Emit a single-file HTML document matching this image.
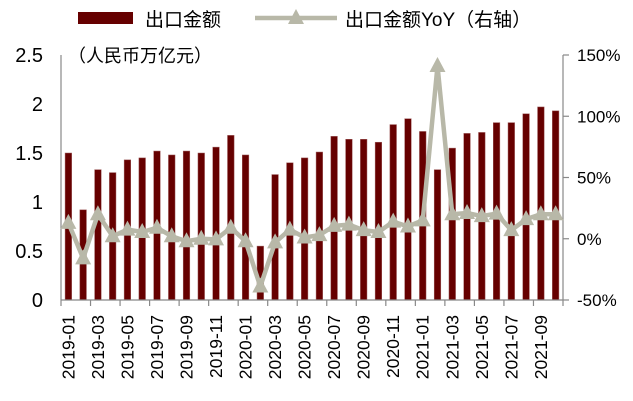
<!DOCTYPE html>
<html><head><meta charset="utf-8">
<style>
body{margin:0;background:#fff;}
svg{display:block;font-family:"Liberation Sans","Noto Sans CJK SC",sans-serif;}
</style></head>
<body>
<svg id="chart" width="633" height="401" viewBox="0 0 633 401"></svg>
<script>
const categories=["2019-01","2019-02","2019-03","2019-04","2019-05","2019-06","2019-07","2019-08","2019-09","2019-10","2019-11","2019-12","2020-01","2020-02","2020-03","2020-04","2020-05","2020-06","2020-07","2020-08","2020-09","2020-10","2020-11","2020-12","2021-01","2021-02","2021-03","2021-04","2021-05","2021-06","2021-07","2021-08","2021-09","2021-10"];
const exportValues=[1.50,0.92,1.33,1.30,1.43,1.45,1.52,1.48,1.52,1.50,1.56,1.68,1.48,0.55,1.28,1.40,1.45,1.51,1.67,1.64,1.64,1.61,1.79,1.85,1.72,1.33,1.55,1.70,1.71,1.81,1.81,1.90,1.97,1.93];
const yoyValues=[13,-16,20,2,7.5,5.5,9,2,-2,0,-0.5,9,-2,-39,-3,7.5,1,3,10.5,11.5,7,5.5,14,10,15,141,20,21,18.5,20.5,7,16,20,20];
const leftTicks=[0,0.5,1,1.5,2,2.5];
const leftTickLabels=["0","0.5","1","1.5","2","2.5"];
const rightTicks=[-50,0,50,100,150];
const rightTickLabels=["-50%","0%","50%","100%","150%"];

const svg=document.getElementById('chart');
const NS='http://www.w3.org/2000/svg';
const X0=61,X1=563,Y0=300,Y1=55;
const step=(X1-X0)/categories.length;
const xC=i=>X0+step*(i+0.5);
const yL=v=>Y0-(v/2.5)*(Y0-Y1);
const yR=v=>Y0-((v+50)/200)*(Y0-Y1);
function mk(tag,attrs,parent){const e=document.createElementNS(NS,tag);for(const k in attrs)e.setAttribute(k,attrs[k]);(parent||svg).appendChild(e);return e;}

// bars
const barG=mk('g',{});


exportValues.forEach((v,i)=>{
  const r=mk('rect',{x:xC(i)-3.3,y:yL(v),width:6.6,height:Y0-yL(v),fill:'#660000',stroke:'#a06060','stroke-width':0.5},barG);
  
  
});

// axes
const axG=mk('g',{stroke:'#888','stroke-width':1.2,fill:'none'});


mk('line',{x1:X0,y1:Y1,x2:X0,y2:Y0},axG);
mk('line',{x1:X1,y1:Y1,x2:X1,y2:Y0},axG);
mk('line',{x1:X0,y1:Y0,x2:X1,y2:Y0},axG);
for(let i=0;i<=categories.length;i+=2){mk('line',{x1:X0+step*i,y1:Y0,x2:X0+step*i,y2:Y0+6},axG);}
rightTicks.forEach(t=>mk('line',{x1:X1,y1:yR(t),x2:X1+6,y2:yR(t)},axG));

// tick labels
leftTicks.forEach((t,i)=>{
  const tx=mk('text',{x:43,y:yL(t)+7,'text-anchor':'end','font-size':20,fill:'#000'});
  tx.textContent=leftTickLabels[i];
  
  
});
rightTicks.forEach((t,i)=>{
  const tx=mk('text',{x:577,y:yR(t)+6,'text-anchor':'start','font-size':17,fill:'#000'});
  tx.textContent=rightTickLabels[i];
  
  
});
categories.forEach((c,i)=>{
  if(i%2) return;
  const x=xC(i)+6;
  const tx=mk('text',{x:x,y:315,'text-anchor':'end','font-size':17.5,fill:'#000',transform:`rotate(-90 ${x} 315)`});
  tx.textContent=c;
  
  
});

// yoy line
const lineG=mk('g',{});


const pts=yoyValues.map((v,i)=>xC(i)+','+yR(v)).join(' ');
const pl=mk('polyline',{points:pts,fill:'none',stroke:'#b8b8a8','stroke-width':4.5,'stroke-linejoin':'round'},lineG);


yoyValues.forEach((v,i)=>{
  const x=xC(i),y=yR(v);
  const t=mk('polygon',{points:`${x},${y-9} ${x-8},${y+6} ${x+8},${y+6}`,fill:'#b8b8a8'},lineG);
  
  
});

// unit label
const u=mk('text',{x:68,y:62,'font-size':18,fill:'#000'});
u.textContent='（人民币万亿元）';



// legend
const lg=mk('g',{});


const sw=mk('rect',{x:78,y:12,width:55,height:12,fill:'#660000'},lg);


const lt1=mk('text',{x:145,y:26,'font-size':19,fill:'#000'},lg);
lt1.textContent='出口金额';


const ll=mk('line',{x1:255,y1:18,x2:337,y2:18,stroke:'#b8b8a8','stroke-width':4.5},lg);


const lm=mk('polygon',{points:'296,9 288,24 304,24',fill:'#b8b8a8'},lg);


const lt2=mk('text',{x:345,y:26,'font-size':19,fill:'#000'},lg);
lt2.textContent='出口金额YoY（右轴）';


</script>
</body></html>
